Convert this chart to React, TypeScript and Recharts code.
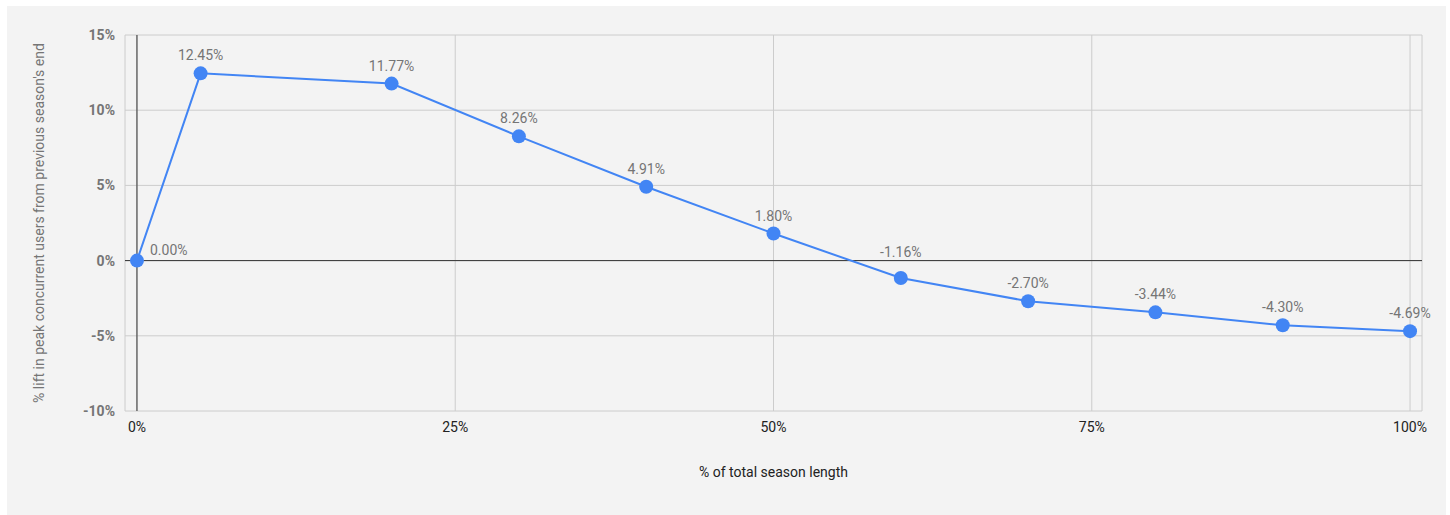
import React from "react";
import {
  LineChart,
  Line,
  XAxis,
  YAxis,
  CartesianGrid,
  ReferenceLine,
  Label,
  LabelList,
} from "recharts";

const seasonPct = [0, 5, 20, 30, 40, 50, 60, 70, 80, 90, 100];
const liftPct = [0, 12.45, 11.77, 8.26, 4.91, 1.8, -1.16, -2.7, -3.44, -4.3, -4.69];
const xTicks = [0, 25, 50, 75, 100];
const yTicks = [-10, -5, 0, 5, 10, 15];

const data = seasonPct.map((x, i) => ({ x, y: liftPct[i] }));

const FONT = "Roboto, 'Noto Sans', Arial, sans-serif";
const GRAY = "#757575";

const renderLabel = (props: any) => {
  const { x, y, value, index } = props;
  const v = Number(value);
  const text = `${v.toFixed(2)}%`;
  if (index === 0) {
    return (
      <text x={x + 13} y={y - 6} textAnchor="start" fill={GRAY} fontSize={14} fontFamily={FONT}>
        {text}
      </text>
    );
  }
  // labels that would collide with the zero line are lifted above it
  const lift = v < 0 && v > -2 ? 21 : 13;
  return (
    <text x={x} y={y - lift} textAnchor="middle" fill={GRAY} fontSize={14} fontFamily={FONT}>
      {text}
    </text>
  );
};

export default function App() {
  return (
    <div
      style={{
        position: "absolute",
        left: 7,
        top: 6,
        width: 1439,
        height: 509,
        background: "#f3f3f3",
      }}
    >
      <LineChart
        width={1439}
        height={509}
        data={data}
        margin={{ top: 29, right: 24, left: 0, bottom: 0 }}
      >
        <CartesianGrid stroke="#cccccc" strokeWidth={1} />
        <XAxis
          dataKey="x"
          type="number"
          domain={[-0.94, 100.94]}
          ticks={xTicks}
          tickFormatter={(v: number) => `${v}%`}
          axisLine={false}
          tickLine={false}
          tickMargin={5}
          height={104}
          tick={{ fill: "#222222", fontSize: 14, fontFamily: FONT }}
        >
          <Label
            content={({ viewBox }: any) => (
              <text
                x={viewBox.x + viewBox.width / 2}
                y={471}
                textAnchor="middle"
                fill="#222222"
                fontSize={14}
                fontFamily={FONT}
              >
                % of total season length
              </text>
            )}
          />
        </XAxis>
        <YAxis
          type="number"
          domain={[-10, 15]}
          ticks={yTicks}
          tickFormatter={(v: number) => `${v}%`}
          axisLine={false}
          tickLine={false}
          tickMargin={4}
          width={118}
          tick={{ fill: GRAY, fontSize: 14, fontFamily: FONT, fontWeight: 700 }}
        >
          <Label
            content={({ viewBox }: any) => {
              const cx = 31.5;
              const cy = viewBox.y + viewBox.height / 2;
              return (
                <text
                  x={cx}
                  y={cy}
                  transform={`rotate(-90, ${cx}, ${cy})`}
                  textAnchor="middle"
                  dominantBaseline="central"
                  fill={GRAY}
                  fontSize={14}
                  fontFamily={FONT}
                >
                  % lift in peak concurrent users from previous season's end
                </text>
              );
            }}
          />
        </YAxis>
        <ReferenceLine y={0} stroke="#333333" strokeWidth={1} />
        <ReferenceLine x={0} stroke="#333333" strokeWidth={1} />
        <Line
          type="linear"
          dataKey="y"
          stroke="#4285f4"
          strokeWidth={2}
          dot={{ r: 7, fill: "#4285f4", stroke: "#4285f4", strokeWidth: 0 }}
          activeDot={false}
          isAnimationActive={false}
        >
          <LabelList dataKey="y" content={renderLabel} />
        </Line>
      </LineChart>
    </div>
  );
}
